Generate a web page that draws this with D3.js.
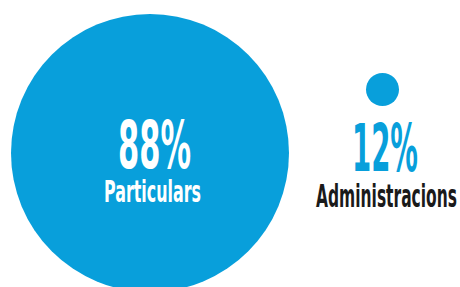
<!DOCTYPE html>
<html>
<head>
<meta charset="utf-8">
<script src="https://cdn.jsdelivr.net/npm/d3@7"></script>
<style>
  html, body { margin: 0; padding: 0; background: #fff; }
  svg { display: block; }
  text { font-family: "DejaVu Sans Condensed", "DejaVu Sans", sans-serif; font-weight: bold; }
</style>
</head>
<body>
<div id="chart"></div>
<script>
var width = 460, height = 287;

var labels = ["Particulars", "Administracions"];
var values = [88, 12];

var blue = "#089fdb";

// circle size scale
var r = d3.scaleLinear()
    .domain([12, 88])
    .range([16.5, 139]);

// circle centres
var centres = [[150, 153], [382.5, 89.5]];

var svg = d3.select("#chart").append("svg")
    .attr("width", width)
    .attr("height", height);

svg.selectAll("circle")
    .data(values)
  .enter().append("circle")
    .attr("cx", function(d, i) { return centres[i][0]; })
    .attr("cy", function(d, i) { return centres[i][1]; })
    .attr("r", function(d) { return r(d); })
    .style("fill", blue);

// text layout per circle: percent and label position / width
var textpos = [
  {px: 154.5, py: 168, pw: 73, lx: 152.5, ly: 202, lw: 97, ls: 31, pcol: "#fff", lcol: "#fff"},
  {px: 385, py: 171, pw: 66, lx: 386.5, ly: 207, lw: 141, ls: 32, pcol: blue, lcol: "#1a1a1a"}
];

// squeeze a text horizontally so it is w pixels wide, centred on x
function condensed(x, y, w, size, col, str) {
  var t = svg.append("text")
      .attr("text-anchor", "middle")
      .style("font-size", size + "px")
      .style("fill", col)
      .text(str);
  var k = w / t.node().getComputedTextLength();
  t.attr("transform", "translate(" + x + "," + y + ") scale(" + k + ",1)");
}

values.forEach(function(v, i) {
  var t = textpos[i];
  condensed(t.px, t.py, t.pw, 65, t.pcol, v + "%");
  condensed(t.lx, t.ly, t.lw, t.ls, t.lcol, labels[i]);
});
</script>
</body>
</html>
